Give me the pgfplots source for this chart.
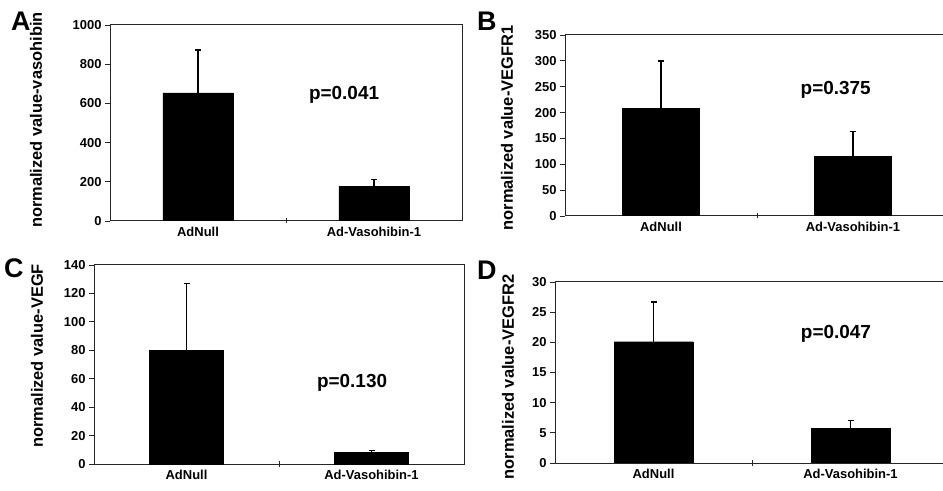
\documentclass[border=0pt]{standalone}
\usepackage{fontspec}
\setmainfont{Liberation Sans}
\usepackage{pgfplots}
\pgfplotsset{compat=1.18}
\pgfplotsset{
  panel/.style={
    scale only axis, ybar, bar width=0.4,
    xmin=-0.5, xmax=1.5, ymin=0,
    axis line style={line width=1bp, black!85},
    xtick={0.5}, xticklabels={},
    x tick style={line width=0.8bp, black!85},
    xtick align=center, major tick length=5bp,
    extra x ticks={0,1},
    extra x tick labels={AdNull,Ad-Vasohibin-1},
    extra x tick style={major tick length=0pt},
    x tick label style={font=\fontsize{13}{13}\selectfont\bfseries, yshift=-3bp},
    ytick align=outside,
    y tick style={line width=0.8bp, black!85},
    ytick pos=left, xtick pos=bottom,
    y tick label style={font=\fontsize{13}{13}\selectfont\bfseries},
    /pgf/number format/assume math mode=true,
    /pgf/number format/1000 sep={},
    ylabel style={rotate=0, anchor=center, font=\fontsize{16.5}{16.5}\selectfont\bfseries},
    error bars/y dir=plus, error bars/y explicit,
    error bars/error bar style={line width=1.3bp, black},
    error bars/error mark options={rotate=90, mark size=3bp, line width=1.3bp, black},
  },
}
\tikzset{
  pnode/.style={font=\fontsize{19}{19}\selectfont\bfseries},
  letter/.style={font=\fontsize{27}{27}\selectfont\bfseries, anchor=north west, inner sep=0pt},
}
\begin{document}
\begin{tikzpicture}
\useasboundingbox (0,0) rectangle (943bp,491bp);
% Panel A
\begin{axis}[panel, at={(110bp,270bp)}, anchor=south west, width=352bp, height=196bp,
  ymax=1000, ytick={0,200,...,1000},
  ylabel={normalized value-vasohibin},
  ylabel style={at={(axis description cs:-0.21,0.515)}}]
\addplot[fill=black, draw=black] coordinates {(0,654) +- (0,218) (1,177) +- (0,36)};
\node[pnode] at (axis cs:0.83,643) {p=0.041};
\end{axis}
% Panel B
\begin{axis}[panel, at={(565bp,275bp)}, anchor=south west, width=384bp, height=181bp,
  ymax=350, ytick={0,50,...,350},
  ylabel={normalized value-VEGFR1},
  ylabel style={at={(axis description cs:-0.151,0.486)}}]
\addplot[fill=black, draw=black] coordinates {(0,208) +- (0,92) (1,115) +- (0,48)};
\node[pnode] at (axis cs:0.91,244) {p=0.375};
\end{axis}
% Panel C
\begin{axis}[panel, at={(94bp,27bp)}, anchor=south west, width=370bp, height=199bp,
  ymax=140, ytick={0,20,...,140},
  ylabel={normalized value-VEGF},
  ylabel style={at={(axis description cs:-0.154,0.543)}}]
\addplot[fill=black, draw=black] coordinates {(0,80) +- (0,47) (1,8.2) +- (0,1.4)};
\node[pnode] at (axis cs:0.895,57) {p=0.130};
\end{axis}
% Panel D
\begin{axis}[panel, at={(555bp,28bp)}, anchor=south west, width=394bp, height=181bp,
  ymax=30, ytick={0,5,...,30},
  ylabel={normalized value-VEGFR2},
  ylabel style={at={(axis description cs:-0.119,0.475)}}]
\addplot[fill=black, draw=black] coordinates {(0,20.1) +- (0,6.6) (1,5.7) +- (0,1.3)};
\node[pnode] at (axis cs:0.926,21.4) {p=0.047};
\end{axis}
\node[letter] at (11bp,479bp) {A};
\node[letter] at (477bp,479bp) {B};
\node[letter] at (4bp,232bp) {C};
\node[letter] at (477bp,230bp) {D};
\end{tikzpicture}
\end{document}
